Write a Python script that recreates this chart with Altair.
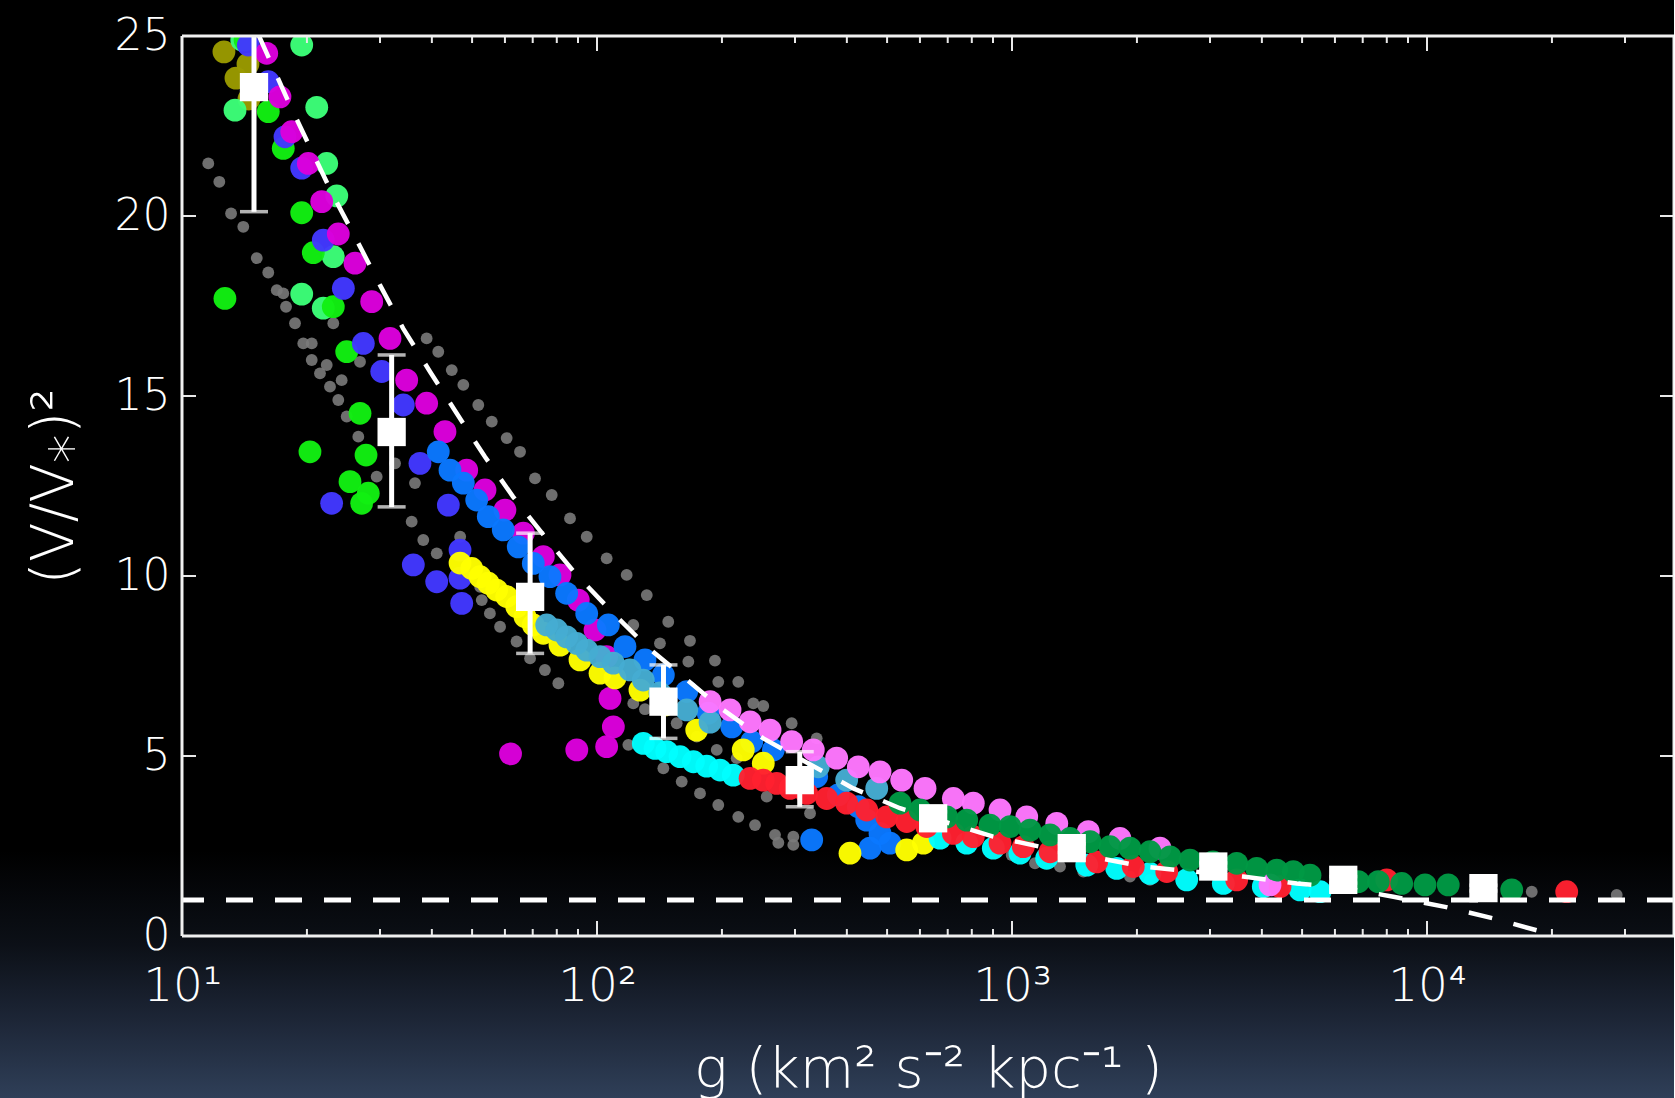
import altair as alt
import pandas as pd

W, H = 1492, 900

# ---------------- data ----------------
gray_g = [11.57, 12.30, 13.13, 14.05, 15.14, 16.14, 16.92, 17.54, 17.81, 18.72, 19.60, 20.54, 20.54, 21.50,
          22.32, 23.15, 26.85, 22.73, 24.25, 23.80, 24.94, 26.60, 29.45, 32.61, 36.42, 35.76, 38.14, 41.1,
          46.8, 52.3, 52.76, 55.2, 58.4, 64.0, 68.97, 74.9, 80.7, 122.3, 130.5, 155.6, 173.9, 194.3, 217.1,
          256.4, 326.1, 38.86, 41.45, 44.67, 47.63, 51.76, 55.77, 60.58, 65.24, 70.89, 77.79, 86.1, 94.45,
          105.5, 117.9, 131.8, 148.5, 167.5, 192.4, 219.0, 238.1, 251.6, 294.5, 338.3, 119.0, 144.5, 160.0,
          177.1, 196.0, 219.0, 240.3, 268.5, 273.5, 297.2, 297.2, 122.3, 141.8, 166.0, 196.0, 998, 1136,
          1305, 1485, 1924, 2150, 17880, 28650]
gray_v = [21.46, 20.95, 20.07, 19.70, 18.83, 18.43, 17.94, 17.85, 17.48, 17.02, 16.46, 16.46, 16.0, 15.63,
          15.86, 17.02, 15.95, 15.26, 15.44, 14.89, 14.43, 13.87, 12.76, 13.13, 12.58, 11.51, 11.0, 10.63,
          11.09, 9.70, 9.33, 8.96, 8.59, 8.18, 7.71, 7.39, 7.02, 6.46, 6.30, 5.91, 5.54, 5.17, 4.94,
          3.87, 3.41, 16.60, 16.23, 15.72, 15.31, 14.75, 14.29, 13.83, 13.45, 12.71, 12.25, 11.60, 11.09,
          10.49, 10.03, 9.47, 8.73, 8.20, 7.65, 7.06, 6.46, 6.39, 5.91, 5.49, 5.31, 4.66, 4.29,
          3.96, 3.64, 3.31, 3.08, 2.81, 2.59, 2.76, 2.53, 8.64, 8.13, 7.62, 7.06, 2.25, 2.02,
          1.93, 1.79, 1.65, 1.56, 1.23, 1.14]

olive_g = [12.62, 14.42, 13.49, 14.50]
olive_v = [24.56, 24.22, 23.83, 23.25]

lgreen_g = [13.42, 21.12, 19.43, 22.32, 23.60, 23.15, 19.43, 21.90, 13.93]
lgreen_v = [22.94, 23.02, 24.75, 21.46, 20.56, 18.87, 17.83, 17.44, 24.89]

green_g = [12.69, 17.54, 19.43, 20.72, 23.15, 24.94, 16.14, 14.19, 26.85, 20.34, 27.76, 25.40, 28.11, 27.10]
green_v = [17.71, 21.88, 20.09, 18.98, 17.48, 16.23, 22.90, 24.89, 14.52, 13.45, 13.36, 12.62, 12.30, 12.02]

blue_g = [14.45, 16.14, 17.71, 19.43, 21.90, 24.48, 27.35, 30.29, 34.14, 37.45, 43.83, 22.94, 46.77,
          36.09, 41.09, 46.77, 47.21]
blue_v = [24.75, 23.73, 22.20, 21.33, 19.33, 17.99, 16.46, 15.68, 14.75, 13.13, 11.97, 12.02, 10.72,
          10.31, 9.84, 9.94, 9.24]

magenta_g = [16.0, 17.22, 18.38, 20.15, 21.71, 23.80, 26.12, 28.65, 31.71, 34.78, 38.86, 43.02, 48.53,
             53.72, 60.0, 66.45, 74.24, 81.43, 90.13, 98.9, 105.5, 107.5, 109.5, 105.5, 89.4, 61.9]
magenta_v = [24.52, 23.31, 22.34, 21.46, 20.40, 19.50, 18.69, 17.62, 16.60, 15.44, 14.80, 14.01, 12.94,
             12.39, 11.83, 11.19, 10.54, 10.03, 9.33, 8.50, 7.76, 6.60, 5.81, 5.26, 5.17, 5.06]

dodger_g = [41.45, 44.24, 47.63, 51.3, 54.7, 59.45, 64.6, 70.23, 77.03, 84.5, 94.45, 106.5, 116.8, 130.5,
            144.5, 164.5, 185.4, 211.2, 236.0, 266.0, 338.3, 381.5, 426.2, 446.6, 480.8, 508.2, 454.8, 329.1]
dodger_v = [13.45, 12.94, 12.58, 12.11, 11.65, 11.28, 10.81, 10.35, 9.98, 9.52, 8.96, 8.64, 8.04, 7.67,
            7.25, 6.79, 6.19, 5.81, 5.40, 5.17, 4.43, 3.92, 3.59, 3.22, 2.85, 2.58, 2.44, 2.67]

yellow_g = [46.77, 49.9, 52.27, 54.7, 57.3, 60.58, 64.05, 67.07, 70.23, 74.24, 81.43, 91.0, 101.7, 110.5,
            126.9, 145.9, 173.9, 225.1, 251.6, 407, 557.5, 611.5]
yellow_v = [10.36, 10.21, 9.98, 9.80, 9.61, 9.43, 9.15, 8.87, 8.64, 8.41, 8.08, 7.67, 7.30, 7.17,
            6.83, 6.42, 5.72, 5.17, 4.80, 2.30, 2.39, 2.58]

lblue_g = [75.65, 79.97, 84.5, 89.35, 94.45, 101.7, 109.5, 120.1, 129.3, 141.8, 164.5, 187.3, 341.4, 399.6, 472.1]
lblue_v = [8.64, 8.50, 8.31, 8.13, 7.94, 7.76, 7.58, 7.39, 7.11, 6.75, 6.28, 5.94, 4.70, 4.33, 4.10]

cyan_g = [129.3, 138.0, 147.2, 158.5, 170.7, 183.8, 197.9, 213.0, 670.8, 777.9, 901.6, 1045, 1212, 1514,
          1788, 2150, 2636, 3230, 4032, 4943, 5524]
cyan_v = [5.35, 5.21, 5.12, 4.98, 4.84, 4.72, 4.61, 4.47, 2.72, 2.58, 2.44, 2.30, 2.16, 1.97,
          1.88, 1.74, 1.56, 1.46, 1.37, 1.28, 1.23]

red_g = [233.8, 251.6, 271.0, 291.8, 320.1, 357.6, 399.6, 446.6, 499.0, 557.5, 623.0, 722.3, 806.7, 935.7,
         1065, 1235, 1600, 1960, 2360, 3479, 4424, 7995, 21710]
red_v = [4.38, 4.33, 4.24, 4.10, 3.96, 3.82, 3.69, 3.50, 3.31, 3.18, 3.04, 2.85, 2.76, 2.58,
         2.48, 2.34, 2.06, 1.93, 1.79, 1.56, 1.37, 1.56, 1.23]

pink_g = [187.3, 209.2, 233.8, 261.2, 294.5, 332.0, 378.0, 426.2, 480.8, 542.3, 617.2, 722.3, 806.7, 935.7,
          1085, 1282, 1527, 1820, 2273, 4185]
pink_v = [6.51, 6.28, 5.95, 5.72, 5.40, 5.17, 4.94, 4.70, 4.56, 4.33, 4.10, 3.82, 3.69, 3.50,
          3.31, 3.13, 2.90, 2.71, 2.44, 1.42]

dgreen_g = [537.2, 600.3, 696.2, 777.9, 885.1, 989, 1105, 1235, 1380, 1542, 1722, 1924, 2150, 2403, 2685,
            3050, 3479, 3887, 4343, 4762, 5225, 6832, 7632, 8690, 9890, 11250, 16000]
dgreen_v = [3.69, 3.50, 3.31, 3.22, 3.08, 3.04, 2.94, 2.81, 2.71, 2.62, 2.48, 2.44, 2.34, 2.20, 2.11,
            2.06, 2.02, 1.88, 1.83, 1.79, 1.69, 1.51, 1.51, 1.46, 1.42, 1.42, 1.28]

# binned means with error bars
bin_g = [14.91, 32.0, 69.0, 144.6, 308, 645.6, 1393, 3055, 6283, 13677]
bin_v = [23.58, 14.0, 9.42, 6.51, 4.33, 3.27, 2.44, 1.93, 1.56, 1.33]
bin_lo = [20.12, 11.92, 7.85, 5.49, 3.59, 3.10, 2.32, 1.83, 1.47, 1.25]
bin_hi = [27.0, 16.14, 11.19, 7.53, 5.12, 3.45, 2.56, 2.03, 1.65, 1.41]

# model curve (dashed)
curve_g = [15.33, 18.2, 20.5, 23.2, 26.36, 30.0, 34.1, 39.6, 45.9, 53.7, 62.8, 74.9, 89.3, 108.5, 131.8,
           201.5, 251.6, 414.6, 537, 901, 1212, 2069, 2735, 3603, 4856, 6404, 8299, 11050, 14450, 18900, 19450]
curve_v = [25.0, 23.08, 21.83, 20.54, 19.33, 18.08, 16.88, 15.675, 14.52, 13.31, 12.20, 11.09, 10.03, 9.01,
           8.04, 6.28, 5.49, 4.10, 3.55, 2.76, 2.44, 1.93, 1.79, 1.65, 1.46, 1.325, 1.09, 0.81, 0.49, 0.12, 0.0]

unity_level = [1.0]

x_tick_values = [10, 100, 1000, 10000]
x_tick_labels = ["10¹", "10²", "10³", "10⁴"]
x_minor_ticks = [m * 10 ** k for k in range(1, 5) for m in range(2, 10) if m * 10 ** k < 39000]
y_tick_values = [0, 5, 10, 15, 20, 25]
y_inner_ticks = [5, 10, 15, 20]

x_title = "g (km²  s⁻²  kpc⁻¹ )"
y_title = "(V/V⁎)²"

series = [
    ("olive", olive_g, olive_v, "#9a9a00"),
    ("lgreen", lgreen_g, lgreen_v, "#3cff78"),
    ("green", green_g, green_v, "#12f012"),
    ("blue", blue_g, blue_v, "#4238ff"),
    ("magenta", magenta_g, magenta_v, "#dc00dc"),
    ("dodger", dodger_g, dodger_v, "#0a78ff"),
    ("yellow", yellow_g, yellow_v, "#ffff00"),
    ("lblue", lblue_g, lblue_v, "#45acd2"),
    ("cyan", cyan_g, cyan_v, "#00ffff"),
    ("red", red_g, red_v, "#ff2030"),
    ("pink", pink_g, pink_v, "#ff77ff"),
    ("dgreen", dgreen_g, dgreen_v, "#009944"),
]

rows = []
for name, gs, vs, _ in series:
    for g, v in zip(gs, vs):
        rows.append({"g": g, "v": v, "s": name})
pts = pd.DataFrame(rows)
gray = pd.DataFrame({"g": gray_g, "v": gray_v})
bins = pd.DataFrame({"g": bin_g, "v": bin_v, "lo": bin_lo, "hi": bin_hi})
curve = pd.DataFrame({"g": curve_g, "v": curve_v})
unity = pd.DataFrame({"v": unity_level})
xmaj = pd.DataFrame({"t": x_tick_values})
xmin = pd.DataFrame({"t": x_minor_ticks})
ymaj = pd.DataFrame({"t": y_inner_ticks})

# ---------------- scales / axes ----------------
FONT = "DejaVu Sans"
WEIGHT = 300
xscale = alt.Scale(type="log", domain=[10, 39370], nice=False)
yscale = alt.Scale(domain=[0, 25], nice=False, zero=False)

label_expr = " : ".join(
    f"datum.value == {v} ? '{l}'" for v, l in zip(x_tick_values[:-1], x_tick_labels[:-1])
) + f" : '{x_tick_labels[-1]}'"

xaxis = alt.Axis(values=x_tick_values, labelExpr=label_expr, ticks=False, tickSize=0, domain=False,
                 grid=False, labelFontSize=47, labelColor="white", labelFont=FONT, labelPadding=64,
                 labelFontWeight=WEIGHT,
                 labelBaseline="alphabetic", labelFlush=False, labelOverlap=False, labelBound=False,
                 title=x_title, titleFontSize=56, titleColor="white", titleFont=FONT,
                 titleFontWeight=WEIGHT, titleY=150, titleBaseline="alphabetic", zindex=2)
yaxis = alt.Axis(values=y_tick_values, ticks=False, tickSize=0, domain=False, grid=False,
                 labelFontSize=44, labelColor="white", labelFont=FONT, labelPadding=12,
                 labelFontWeight=WEIGHT,
                 labelFlush=False, labelOverlap=False, labelBound=False,
                 title=y_title, titleFontSize=58, titleColor="white", titleFont=FONT,
                 titleFontWeight=WEIGHT, titleAngle=270, titleX=-110, titleY=H / 2,
                 titleAlign="center", titleBaseline="alphabetic", zindex=2)


def X(field):
    return alt.X(field, type="quantitative", scale=xscale, axis=xaxis)


def Y(field):
    return alt.Y(field, type="quantitative", scale=yscale, axis=yaxis)


# ---------------- layers ----------------
bg_grad = alt.LinearGradient(
    gradient="linear", x1=0, x2=0, y1=0, y2=1,
    stops=[alt.GradientStop(offset=0, color="#000000"),
           alt.GradientStop(offset=0.775, color="#000000"),
           alt.GradientStop(offset=0.86, color="#0c1017"),
           alt.GradientStop(offset=0.93, color="#1d2637"),
           alt.GradientStop(offset=1.0, color="#2f3f58")])
background = alt.Chart(alt.Data(values=[{"a": 1}])).mark_rect(color=bg_grad).encode(
    x=alt.value(-182), x2=alt.value(W + 10), y=alt.value(-36), y2=alt.value(H + 162))

gray_layer = alt.Chart(gray).mark_circle(size=140, color="#7a7a7a", opacity=0.9, clip=True).encode(
    x=X("g"), y=Y("v"))

color_layer = alt.Chart(pts).mark_circle(size=520, opacity=0.97, clip=True).encode(
    x=X("g"), y=Y("v"),
    color=alt.Color("s:N", scale=alt.Scale(domain=[s[0] for s in series], range=[s[3] for s in series]),
                    legend=None))

unity_layer = alt.Chart(unity).mark_rule(color="white", strokeWidth=5, strokeDash=[27, 22]).encode(
    y=Y("v"))

curve_layer = alt.Chart(curve).mark_line(color="white", strokeWidth=4.5, strokeDash=[24, 22],
                                         clip=True).encode(x=X("g"), y=Y("v"))

err_layer = alt.Chart(bins).mark_rule(color="white", strokeWidth=5, clip=True).encode(
    x=X("g"), y=Y("lo"), y2="hi")
cap_lo = alt.Chart(bins).mark_tick(color="white", orient="horizontal", size=28, thickness=3.5,
                                   clip=True).encode(x=X("g"), y=Y("lo"))
cap_hi = alt.Chart(bins).mark_tick(color="white", orient="horizontal", size=28, thickness=3.5,
                                   clip=True).encode(x=X("g"), y=Y("hi"))
sq_layer = alt.Chart(bins).mark_square(size=800, color="white", opacity=1, clip=True).encode(
    x=X("g"), y=Y("v"))

tick_col = "#e8e8e8"
xmaj_b = alt.Chart(xmaj).mark_rule(color=tick_col, strokeWidth=2).encode(
    x=X("t"), y=alt.value(H), y2=alt.value(H - 15))
xmaj_t = alt.Chart(xmaj).mark_rule(color=tick_col, strokeWidth=2).encode(
    x=X("t"), y=alt.value(0), y2=alt.value(15))
xmin_b = alt.Chart(xmin).mark_rule(color=tick_col, strokeWidth=2).encode(
    x=X("t"), y=alt.value(H), y2=alt.value(H - 7))
xmin_t = alt.Chart(xmin).mark_rule(color=tick_col, strokeWidth=2).encode(
    x=X("t"), y=alt.value(0), y2=alt.value(7))
ymaj_l = alt.Chart(ymaj).mark_rule(color=tick_col, strokeWidth=2).encode(
    y=Y("t"), x=alt.value(0), x2=alt.value(14))
ymaj_r = alt.Chart(ymaj).mark_rule(color=tick_col, strokeWidth=2).encode(
    y=Y("t"), x=alt.value(W - 14), x2=alt.value(W))

frame_data = alt.Data(values=[{"a": 1}])
fr_l = alt.Chart(frame_data).mark_rule(color="#f0f0f0", strokeWidth=3).encode(
    x=alt.value(0), y=alt.value(0), y2=alt.value(H))
fr_r = alt.Chart(frame_data).mark_rule(color="#f0f0f0", strokeWidth=3).encode(
    x=alt.value(W), y=alt.value(0), y2=alt.value(H))
fr_t = alt.Chart(frame_data).mark_rule(color="#f0f0f0", strokeWidth=3).encode(
    y=alt.value(0), x=alt.value(0), x2=alt.value(W))
fr_b = alt.Chart(frame_data).mark_rule(color="#f0f0f0", strokeWidth=3).encode(
    y=alt.value(H), x=alt.value(0), x2=alt.value(W))

chart = alt.layer(
    background, gray_layer, color_layer, unity_layer, curve_layer, err_layer, cap_lo, cap_hi, sq_layer,
    xmaj_b, xmaj_t, xmin_b, xmin_t, ymaj_l, ymaj_r, fr_l, fr_r, fr_t, fr_b
).properties(
    width=W, height=H,
    padding={"left": 182, "top": 36, "right": 0, "bottom": 162},
    autosize=alt.AutoSizeParams(type="none"),
    background="#000000",
).configure_view(stroke=None)

chart.save("out.html", embed_options={"renderer": "svg", "actions": False})
